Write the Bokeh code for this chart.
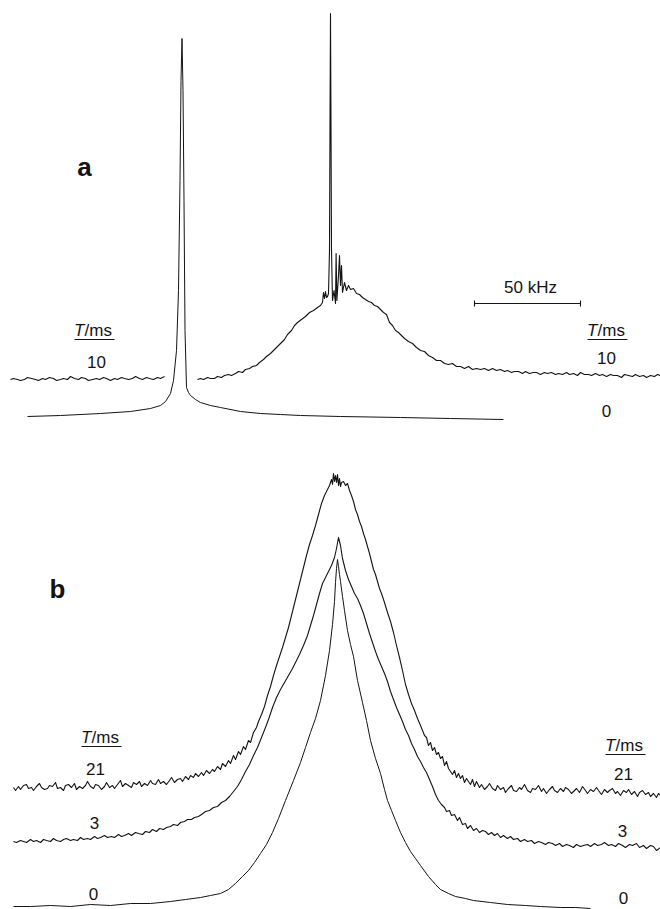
from bokeh.plotting import figure
from bokeh.models import Range1d
from bokeh.core.properties import value
from bokeh.embed import file_html
from bokeh.resources import INLINE

# ---------------- data (x: spectrometer channel, y: signal, arbitrary units) -------------
KHZ_PER_CH = 50.0 / 106.0          # 50 kHz scale bar spans 106 channels
SCALE_BAR_KHZ = 50

# stacking offsets of the individual spectra (arbitrary units)
OFFSET_A10, OFFSET_A0 = 530, 493
OFFSET_B21, OFFSET_B3, OFFSET_B0 = 122, 68, 3

# panel a, T = 0 ms (narrow line)
A0 = [(27, 0), (60, 1), (100, 3), (130, 5), (150, 8), (160, 11), (165, 15), (170, 23), (173, 36),
      (176, 66), (178, 126), (179.5, 236), (180.5, 336), (181.5, 378), (182.5, 326), (183.5, 216),
      (184.5, 86), (186, 29), (188, 24), (190, 21), (195, 17), (200, 14), (210, 11), (220, 9),
      (240, 5), (260, 3), (280, 2), (300, 1), (340, 0), (400, -1), (450, -2), (503, -3)]

# panel a, T = 10 ms (left part, pen lifted at the narrow line, then broad line with spikes)
A10_LEFT = [(10, 0), (13, 1), (17, 0), (20, -1), (24, 0), (27, 2), (31, 1), (35, 0), (38, -1), (42, 1),
            (45, 0), (49, 2), (53, 1), (56, -1), (60, 0), (63, 1), (67, 0), (70, 3), (74, 1), (78, 0),
            (81, 2), (85, 1), (88, -1), (92, 0), (96, 1), (99, 0), (103, 2), (106, 1), (110, -1),
            (114, 1), (117, 0), (121, 2), (124, 1), (128, 0), (132, 1), (135, 3), (139, 1), (142, 0),
            (146, 2), (149, 1), (153, 0), (157, 2), (160, 1), (164, 3)]
A10_RIGHT = [(197, 0), (200, 1), (203, 0), (207, 2), (210, 1), (214, 1), (217, 3), (221, 2), (224, 4),
             (228, 5), (231, 4), (235, 6), (238, 8), (242, 7), (245, 10), (249, 11), (252, 13), (256, 14),
             (259, 17), (263, 20), (266, 23), (270, 26), (273, 29), (277, 33), (280, 36), (284, 40),
             (287, 45), (291, 49), (294, 54), (297, 57), (301, 60), (305, 63), (309, 67), (313, 69),
             (317, 72), (320, 74), (322, 77), (323, 87), (324, 81), (325, 88), (326, 82), (327, 83),
             (328, 86), (329, 129), (329.6, 279), (330, 366), (330.4, 279), (331, 129), (332, 79),
             (333.5, 89), (335, 76), (335.6, 126), (336.4, 79), (338, 104), (339, 124), (340, 94),
             (341, 114), (342, 87), (344, 97), (346, 89), (348, 94), (350, 90), (353, 91), (356, 86),
             (359, 85), (362, 82), (365, 80), (368, 78), (371, 77), (374, 74), (377, 73), (380, 70),
             (383, 67), (386, 65), (389, 57), (392, 54), (395, 49), (398, 47), (401, 44), (404, 41),
             (408, 38), (412, 36), (416, 32), (420, 29), (424, 28), (428, 24), (432, 22), (436, 19),
             (440, 19), (444, 16), (448, 15), (452, 16), (456, 13), (460, 13), (464, 11), (468, 13),
             (472, 10), (476, 11), (480, 10), (484, 11), (488, 9), (492, 11), (496, 9), (500, 10),
             (504, 8), (507, 9), (511, 7), (514, 8), (518, 8), (522, 6), (525, 8), (529, 6), (533, 7),
             (536, 7), (540, 5), (544, 7), (547, 6), (551, 7), (555, 5), (558, 6), (562, 5), (566, 7),
             (569, 5), (573, 6), (577, 4), (580, 7), (584, 5), (588, 5), (591, 4), (595, 6), (599, 4),
             (602, 5), (606, 3), (610, 5), (613, 4), (617, 4), (621, 2), (624, 5), (628, 4), (632, 3),
             (635, 5), (639, 3), (643, 4), (646, 2), (650, 4), (654, 3), (657, 5), (660, 4)]

# panel b, T = 0 ms
B0 = [(13, 0), (30, 0), (50, 1), (70, 0), (90, 2), (110, 1), (130, 3), (150, 3), (170, 5), (185, 7),
      (200, 9), (210, 11), (220, 13), (228, 17), (235, 23), (242, 30), (248, 36), (254, 44), (260, 53),
      (266, 62), (272, 74), (278, 88), (285, 106), (293, 126), (300, 144), (305, 159), (310, 174),
      (315, 188), (320, 206), (325, 231), (329, 256), (332, 282), (334, 305), (335, 324), (336, 338),
      (337, 347), (338, 340), (339, 332), (340, 325), (342, 310), (344, 296), (347, 276), (350, 262),
      (353, 250), (357, 226), (362, 204), (366, 186), (370, 166), (375, 148), (380, 133), (384, 117),
      (387, 106), (391, 96), (395, 86), (400, 74), (405, 64), (410, 55), (415, 48), (420, 41), (428, 30),
      (435, 22), (440, 17), (448, 13), (455, 10), (465, 8), (473, 6), (490, 4), (507, 2), (525, 1),
      (540, 0), (560, -1), (575, -1), (590, -2)]

# panel b, T = 3 ms
B3 = [(13, 0), (16, -1), (20, 1), (23, 0), (26, -1), (30, 2), (33, 0), (36, 1), (40, -1), (43, 2),
      (46, 1), (50, 0), (53, 3), (56, 1), (60, 0), (63, 2), (66, 3), (70, 1), (73, 2), (77, 1), (80, 4),
      (83, 2), (87, 3), (90, 2), (94, 5), (97, 3), (100, 4), (104, 6), (107, 4), (111, 5), (114, 4),
      (118, 7), (121, 5), (124, 6), (128, 8), (131, 6), (135, 9), (138, 8), (142, 7), (145, 10),
      (149, 9), (152, 12), (156, 10), (159, 13), (163, 12), (166, 14), (170, 15), (173, 17), (177, 16),
      (180, 19), (184, 20), (187, 22), (191, 22), (194, 24), (198, 25), (201, 27), (205, 30), (209, 31),
      (213, 34), (217, 35), (221, 39), (225, 41), (229, 45), (233, 50), (237, 55), (241, 62),
      (245, 70), (249, 77), (253, 86), (257, 94), (261, 104), (265, 114), (268, 122), (272, 134),
      (276, 144), (280, 152), (284, 159), (288, 166), (292, 173), (295, 179), (299, 187), (303, 196),
      (307, 206), (310, 216), (313, 226), (316, 237), (319, 248), (322, 258), (325, 264), (328, 270),
      (331, 276), (334, 284), (336, 293), (338, 304), (340, 296), (342, 283), (345, 271), (348, 262),
      (351, 255), (354, 248), (357, 243), (360, 236), (363, 228), (366, 218), (369, 208), (372, 199),
      (375, 190), (378, 182), (381, 175), (384, 168), (387, 160), (390, 150), (393, 142), (396, 134),
      (399, 127), (402, 120), (405, 112), (408, 106), (411, 98), (414, 92), (417, 85), (420, 80),
      (423, 74), (426, 69), (429, 62), (432, 55), (435, 47), (438, 41), (441, 37), (444, 34), (446, 30),
      (449, 31), (451, 26), (454, 27), (457, 21), (459, 24), (462, 17), (465, 18), (467, 13),
      (470, 16), (473, 11), (476, 13), (479, 9), (482, 11), (485, 10), (488, 7), (491, 9), (494, 6),
      (497, 8), (500, 4), (503, 6), (507, 3), (510, 5), (513, 2), (517, 3), (520, 0), (524, 2),
      (527, 0), (531, 1), (534, -2), (538, 0), (541, -1), (545, -3), (548, -1), (552, -2), (555, -4),
      (559, -2), (562, -5), (566, -3), (569, -4), (573, -6), (576, -3), (580, -5), (583, -4), (587, -3),
      (590, -5), (594, -2), (597, -4), (601, -3), (604, -1), (608, -4), (611, -3), (615, -5), (618, -2),
      (622, -4), (625, -6), (629, -3), (632, -4), (636, -2), (639, -6), (643, -4), (646, -7), (650, -4),
      (653, -5), (656, -9), (660, -6)]

# panel b, T = 21 ms
B21 = [(13, 0), (15, -3), (18, 1), (20, -2), (23, 2), (26, 3), (28, -1), (31, 0), (33, -3), (36, 1),
       (39, 4), (41, 0), (44, -2), (47, -1), (49, 2), (52, 1), (55, 5), (57, -1), (60, 0), (63, -3),
       (65, 2), (68, 3), (71, 0), (74, 4), (76, -2), (79, 1), (82, -1), (85, 2), (87, 6), (90, 1),
       (93, -1), (95, 3), (98, 2), (101, -2), (104, 1), (106, 5), (109, 0), (112, 2), (114, -1),
       (117, 3), (120, 7), (122, 1), (125, 4), (128, 2), (131, 0), (133, 5), (136, 3), (139, 6),
       (141, 1), (144, 4), (147, 2), (150, 7), (152, 4), (155, 3), (158, 8), (160, 4), (163, 6),
       (166, 3), (169, 7), (171, 10), (174, 5), (177, 8), (180, 9), (182, 6), (185, 11), (188, 8),
       (190, 12), (193, 10), (195, 14), (198, 11), (201, 15), (203, 12), (206, 17), (209, 14), (212, 18),
       (214, 16), (217, 21), (220, 18), (222, 24), (225, 21), (228, 27), (230, 24), (233, 32), (235, 28),
       (238, 36), (240, 33), (243, 41), (245, 38), (248, 47), (250, 45), (253, 55), (256, 60), (258, 66),
       (261, 73), (264, 81), (267, 92), (270, 101), (273, 112), (276, 122), (279, 131), (282, 140),
       (285, 150), (288, 160), (291, 172), (294, 184), (297, 196), (300, 208), (303, 220), (306, 232),
       (309, 243), (312, 252), (315, 262), (318, 273), (321, 284), (324, 292), (327, 298), (329, 302),
       (331, 308), (332, 303), (333, 314), (334, 306), (335, 312), (336, 305), (337, 313), (338, 302),
       (339, 309), (340, 301), (341, 305), (343, 306), (345, 302), (347, 304), (349, 297), (351, 292),
       (353, 286), (355, 278), (357, 273), (359, 266), (361, 261), (363, 254), (365, 248), (367, 241),
       (369, 234), (371, 226), (373, 218), (375, 213), (377, 206), (379, 199), (381, 194), (384, 185),
       (387, 175), (390, 166), (393, 155), (396, 142), (399, 130), (402, 117), (405, 103), (408, 93),
       (411, 84), (414, 77), (417, 69), (420, 62), (422, 57), (424, 52), (426, 50), (428, 42), (430, 45),
       (432, 37), (434, 40), (436, 33), (438, 35), (440, 29), (442, 31), (444, 22), (446, 26), (448, 19),
       (450, 16), (452, 13), (454, 17), (456, 10), (458, 14), (460, 9), (462, 12), (464, 5), (466, 9),
       (468, 6), (470, 3), (472, 8), (474, 1), (476, 6), (479, 0), (481, 3), (484, -2), (487, 1),
       (489, 4), (492, -1), (495, -3), (497, 2), (500, -2), (503, 0), (505, -5), (508, -1), (511, 2),
       (513, -3), (516, -4), (519, 0), (521, -2), (524, 3), (527, -3), (530, -5), (532, -1), (535, -2),
       (538, 2), (541, -4), (543, -1), (546, -6), (549, -2), (552, 1), (554, -3), (557, -5), (560, -1),
       (563, -4), (565, 0), (568, -2), (571, -6), (574, -3), (576, -1), (579, -5), (582, 1), (585, -3),
       (587, -6), (590, -2), (593, -4), (596, 0), (598, -3), (601, -7), (604, -2), (607, -5), (609, -3),
       (612, -1), (615, -6), (617, -4), (620, -8), (623, -3), (626, -5), (628, -2), (631, -7), (634, -4),
       (637, -9), (639, -5), (642, -3), (645, -7), (648, -5), (650, -9), (653, -6), (656, -10),
       (658, -6), (660, -8)]

# trace labels (T / ms)
A_TIMES = ["10", "0"]
B_TIMES = ["21", "3", "0"]

# ---------------- plotting -------------------------------------------------------------
W, H = 660, 909
p = figure(width=W, height=H, x_range=Range1d(0, W), y_range=Range1d(0, H),
           output_backend="svg", toolbar_location=None, min_border=0,
           x_axis_location=None, y_axis_location=None)
p.grid.visible = False
p.outline_line_color = None
p.background_fill_color = "white"
p.border_fill_color = "white"

INK = "#141414"


def trace(pairs, offset, width=1.1):
    xs = [c for c, _ in pairs]
    ys = [offset + v for _, v in pairs]
    p.line(xs, ys, line_color=INK, line_width=width, line_join="round")


trace(A0, OFFSET_A0, 1.0)
trace(A10_LEFT, OFFSET_A10, 1.1)
trace(A10_RIGHT, OFFSET_A10, 1.1)
trace(B0, OFFSET_B0, 1.0)
trace(B3, OFFSET_B3, 1.1)
trace(B21, OFFSET_B21, 1.1)

FONT = value("Liberation Sans")


def Y(px):
    return H - px


def label(x, ypx, txt, size="17px", style="normal", align="center"):
    p.text(x=[x], y=[Y(ypx)], text=[txt], text_font=FONT, text_font_size=size,
           text_font_style=style, text_align=align, text_baseline="middle", text_color=INK)


def tms(xc, ypx):
    # "T/ms" with italic T, underlined
    label(xc - 10, ypx, "T", style="italic", align="right")
    label(xc - 10, ypx, "/ms", align="left")
    p.segment(x0=[xc - 20], y0=[Y(ypx + 9)], x1=[xc + 20], y1=[Y(ypx + 9)],
              line_color=INK, line_width=1.2)


# panel letters
label(84, 166, "a", size="26px", style="bold")
label(57, 588, "b", size="26px", style="bold")

# panel a labels
tms(94, 330)
label(96, 361, A_TIMES[0])
tms(607, 330)
label(606, 357, A_TIMES[0])
label(606, 410, A_TIMES[1])

# scale bar
bar_x0 = 474
bar_x1 = bar_x0 + SCALE_BAR_KHZ / KHZ_PER_CH
p.segment(x0=[bar_x0], y0=[Y(303)], x1=[bar_x1], y1=[Y(303)], line_color=INK, line_width=1.1)
p.segment(x0=[bar_x0, bar_x1], y0=[Y(300), Y(300)], x1=[bar_x0, bar_x1], y1=[Y(306), Y(306)],
          line_color=INK, line_width=1.1)
label((bar_x0 + bar_x1) / 2 + 3, 287, "50 kHz")

# panel b labels
tms(101, 737)
label(95, 768, B_TIMES[0])
label(94, 822, B_TIMES[1])
label(93, 893, B_TIMES[2])
tms(625, 745)
label(623, 773, B_TIMES[0])
label(622, 830, B_TIMES[1])
label(623, 897, B_TIMES[2])

open("out.html", "w").write(file_html(p, INLINE))
